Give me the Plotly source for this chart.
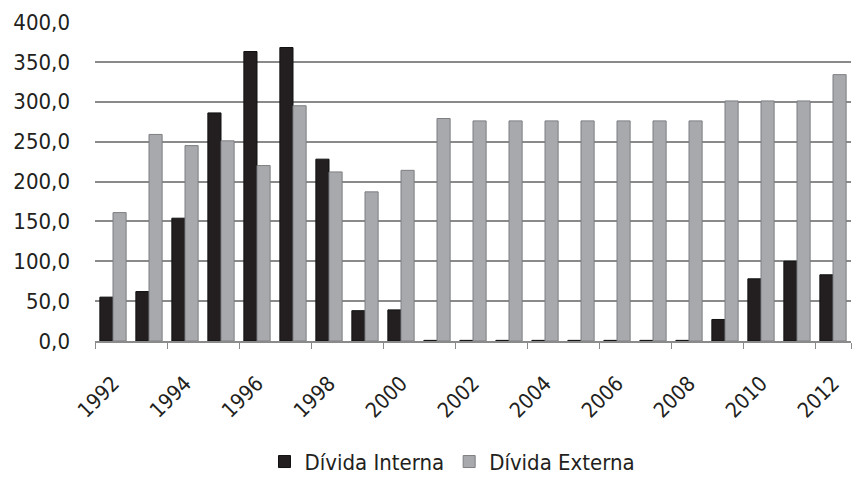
import plotly.graph_objects as go

# Public debt series, 1992-2012
anos = [str(a) for a in range(1992, 2013)]
divida_interna = [55, 62, 154, 286, 363, 368, 228, 38, 39,
                  0.8, 0.8, 0.8, 0.8, 0.8, 0.8, 0.8, 0.8,
                  27, 78, 100, 83]
divida_externa = [161, 259, 245, 251, 220, 295, 212, 187, 214,
                  279, 276, 276, 276, 276, 276, 276, 276,
                  301, 301, 301, 334]
y_ticks = [0, 50, 100, 150, 200, 250, 300, 350, 400]
y_labels = ["0,0", "50,0", "100,0", "150,0", "200,0", "250,0", "300,0", "350,0", "400,0"]

FONT = "'DejaVu Sans Condensed', sans-serif"

fig = go.Figure()
fig.add_trace(go.Bar(
    x=anos, y=divida_interna, name="Dívida Interna",
    marker=dict(color="#231f20", line=dict(color="#111111", width=1)),
))
fig.add_trace(go.Bar(
    x=anos, y=divida_externa, name="Dívida Externa",
    marker=dict(color="#a7a9ac", line=dict(color="#7d7f82", width=1)),
))

fig.update_layout(
    width=857, height=477,
    margin=dict(l=95, r=6, t=22, b=136),
    paper_bgcolor="white", plot_bgcolor="white",
    barmode="group", bargap=0.27, bargroupgap=0.0,
    font=dict(family=FONT, size=22, color="#231f20"),
    showlegend=True,
    legend=dict(
        orientation="h", xref="container", yref="container",
        x=0.528, xanchor="center", y=0.032, yanchor="middle",
        font=dict(size=22), itemwidth=30, traceorder="normal",
    ),
    xaxis=dict(
        type="category", tickmode="array",
        tickvals=anos[::2], ticktext=anos[::2],
        tickangle=-45, tickson="boundaries",
        ticks="outside", ticklen=6, tickcolor="#8a8a8a",
        showline=True, linecolor="#8a8a8a", linewidth=2,
        showgrid=False, tickfont=dict(size=21),
        ticklabelstandoff=20, automargin=False,
    ),
    yaxis=dict(
        range=[0, 400], tickmode="array",
        tickvals=y_ticks, ticktext=y_labels,
        showgrid=True, gridcolor="#8a8a8a", gridwidth=2,
        zeroline=False, showline=False, ticks="",
        ticklabelstandoff=24, tickfont=dict(size=22),
        automargin=False,
    ),
)

fig.write_html("out.html")
